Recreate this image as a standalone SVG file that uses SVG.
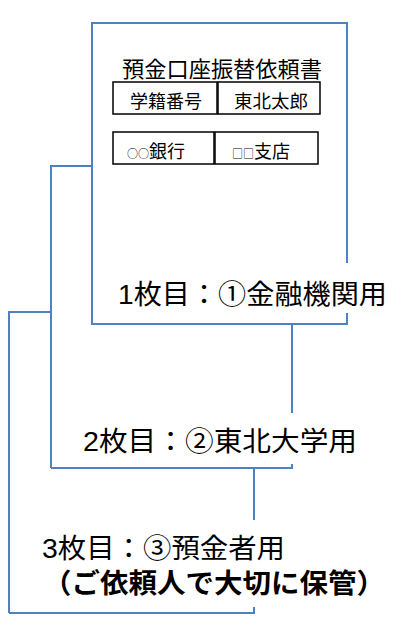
<svg xmlns="http://www.w3.org/2000/svg" width="400" height="625" viewBox="0 0 400 625">
<style>
.edge{fill:none;stroke:#4F81BD;stroke-width:2}
.sheet{fill:#fff;stroke:#4F81BD;stroke-width:2}
.bg{fill:#fff;stroke:none}
.cell{fill:#fff;stroke:#000;stroke-width:1.5}
.big{font-family:"Liberation Sans","Noto Sans CJK JP",sans-serif;font-size:27.5px;fill:#000}
.bold{font-weight:bold}
.form{font-family:"Noto Sans CJK JP",sans-serif;fill:#000}
</style>
<rect width="400" height="625" fill="#fff"/>
<g id="connectors">
  <polyline class="edge" points="9,613 9,312 51,312"/>
  <polyline class="edge" points="254,468 254,613 9,613"/>
  <polyline class="edge" points="51,468 51,166 92,166"/>
  <polyline class="edge" points="292,324 292,468 51,468"/>
</g>
<g id="sheet3">
  <rect class="bg" x="35" y="520" width="355" height="87"/>
  <text class="big" x="42" y="558" textLength="243" lengthAdjust="spacingAndGlyphs">3枚目：③預金者用</text>
  <text class="big bold" x="43" y="593" textLength="342" lengthAdjust="spacingAndGlyphs">（ご依頼人で大切に保管）</text>
</g>
<g id="sheet2">
  <rect class="bg" x="75" y="413" width="290" height="51"/>
  <text class="big" x="83" y="451" textLength="274" lengthAdjust="spacingAndGlyphs">2枚目：②東北大学用</text>
</g>
<g id="sheet1">
  <rect class="sheet" x="92" y="23" width="255" height="301"/>
  <text class="form" x="122" y="77" font-size="22" textLength="200" lengthAdjust="spacingAndGlyphs">預金口座振替依頼書</text>
  <rect class="cell" x="113" y="82" width="104" height="32"/>
  <rect class="cell" x="218" y="82" width="102" height="32"/>
  <text class="form" x="130" y="108" font-size="18" textLength="72" lengthAdjust="spacingAndGlyphs">学籍番号</text>
  <text class="form" x="234" y="108" font-size="18" textLength="74" lengthAdjust="spacingAndGlyphs">東北太郎</text>
  <rect class="cell" x="113" y="132" width="101" height="32"/>
  <rect class="cell" x="215" y="132" width="103" height="32"/>
  <text class="form" x="127" y="158" font-size="18"><tspan font-size="11">○○</tspan>銀行</text>
  <text class="form" x="232" y="158" font-size="18"><tspan font-size="11">□□</tspan>支店</text>
  <rect class="bg" x="110" y="263" width="285" height="50"/>
  <text class="big" x="118" y="304" textLength="269" lengthAdjust="spacingAndGlyphs">1枚目：①金融機関用</text>
</g>
</svg>
